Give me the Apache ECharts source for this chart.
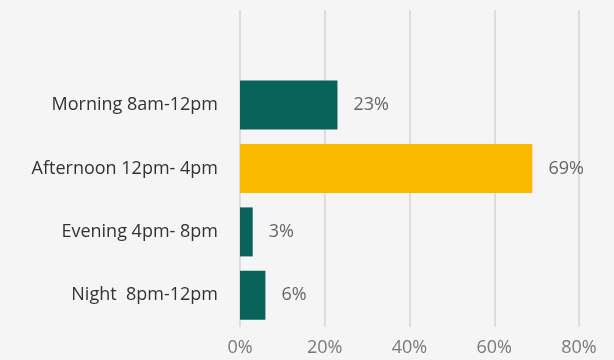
<!DOCTYPE html>
<html>
<head>
<meta charset="utf-8">
<script src="https://cdn.jsdelivr.net/npm/echarts@6/dist/echarts.min.js"></script>
<style>
  html, body { margin: 0; padding: 0; background: #f4f5f4; }
  #chart { width: 614px; height: 360px; }
</style>
</head>
<body>
<div id="chart"></div>
<script>
// Time-of-day periods, top to bottom (a blank row sits above the first period)
const categories = ['', 'Morning 8am-12pm', 'Afternoon 12pm- 4pm', 'Evening 4pm- 8pm', 'Night  8pm-12pm'];
const shares = [null, 23, 69, 3, 6];
const highlight = [false, false, true, false, false];
const xTicks = [0, 20, 40, 60, 80];

const TEAL = '#0a6358';
const GOLD = '#fbb900';
const FONT = '"Open Sans", Lato, sans-serif';

const chart = echarts.init(document.getElementById('chart'), null, { renderer: 'canvas' });

chart.setOption({
  backgroundColor: '#f4f5f4',
  animation: false,
  grid: { left: 240, right: 35, top: 10, bottom: 33, containLabel: false },
  xAxis: {
    type: 'value',
    min: xTicks[0],
    max: xTicks[xTicks.length - 1],
    interval: 20,
    axisLine: { show: false },
    axisTick: { show: false },
    splitLine: { show: true, lineStyle: { color: '#dcdddc', width: 2 } },
    axisLabel: {
      formatter: v => v + '%',
      color: '#7a7a7a',
      fontFamily: FONT,
      fontSize: 18,
      margin: 12
    }
  },
  yAxis: {
    type: 'category',
    inverse: true,
    data: categories,
    axisLine: { show: false },
    axisTick: { show: false },
    splitLine: { show: false },
    axisLabel: {
      color: '#333333',
      fontFamily: FONT,
      fontSize: 18,
      margin: 22
    }
  },
  series: [{
    type: 'bar',
    barWidth: 49,
    data: shares.map((v, i) => v === null ? null : {
      value: v,
      itemStyle: { color: highlight[i] ? GOLD : TEAL }
    }),
    label: {
      show: true,
      position: 'right',
      distance: 16,
      formatter: p => p.value + '%',
      color: '#666666',
      fontFamily: FONT,
      fontSize: 18
    }
  }]
});
</script>
</body>
</html>
